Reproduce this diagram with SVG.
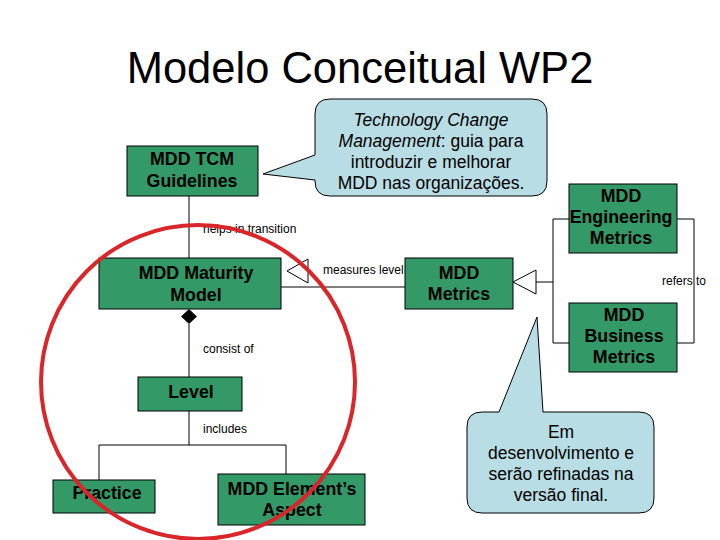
<svg xmlns="http://www.w3.org/2000/svg" width="720" height="540" viewBox="0 0 720 540">
<style>
.box{fill:#339966;stroke:#000;stroke-width:1}
.bt{font-family:"Liberation Sans",Arial,sans-serif;font-weight:bold;font-size:17.8px;fill:#000;text-anchor:middle}
.lbl{font-family:"Liberation Sans",Arial,sans-serif;font-size:12px;fill:#000}
.ln{fill:none;stroke:#000;stroke-width:1}
.call{fill:#b9dde4;stroke:#000;stroke-width:1}
.ct{font-family:"Liberation Sans",Arial,sans-serif;font-size:17.5px;fill:#000;text-anchor:middle}
</style>
<rect width="720" height="540" fill="#fff"/>
<text x="360" y="83" text-anchor="middle" font-family="'Liberation Sans',Arial,sans-serif" font-size="43.5" fill="#000">Modelo Conceitual WP2</text>

<g id="connectors">
  <path class="ln" d="M189,196 V258"/>
  <text class="lbl" x="203" y="233">helps in transition</text>
  <path class="ln" d="M281,287 H405"/>
  <polygon class="ln" points="287,271 308,259 308,283" fill="#fff"/>
  <text class="lbl" x="323" y="274">measures level</text>
  <polygon points="189,309 197,316.5 189,324 181,316.5" fill="#000"/>
  <path class="ln" d="M189,324 V377"/>
  <text class="lbl" x="203" y="353">consist of</text>
  <path class="ln" d="M189,411 V445 M99,445 H286 M99,445 V480 M286,445 V474"/>
  <text class="lbl" x="203" y="433">includes</text>
  <polygon class="ln" points="513,282 536,270 536,294" fill="#fff"/>
  <path class="ln" d="M536,282 H553 M553,219 V343 M553,219 H569 M553,343 H569"/>
  <path class="ln" d="M677,219 H694 V343 H677"/>
  <text class="lbl" x="662" y="285">refers to</text>
</g>

<g id="tcm">
  <rect class="box" x="127" y="146" width="131" height="50"/>
  <text class="bt" x="192" y="165">MDD TCM</text>
  <text class="bt" x="192" y="187">Guidelines</text>
</g>
<g id="maturity">
  <rect class="box" x="99" y="258" width="182" height="51"/>
  <text class="bt" x="196" y="279">MDD Maturity</text>
  <text class="bt" x="196" y="301">Model</text>
</g>
<g id="metrics">
  <rect class="box" x="405" y="258" width="108" height="51"/>
  <text class="bt" x="459" y="279">MDD</text>
  <text class="bt" x="459" y="300">Metrics</text>
</g>
<g id="engineering">
  <rect class="box" x="569" y="184" width="108" height="69"/>
  <text class="bt" x="621" y="202">MDD</text>
  <text class="bt" x="621" y="223">Engineering</text>
  <text class="bt" x="621" y="244">Metrics</text>
</g>
<g id="business">
  <rect class="box" x="569" y="303" width="108" height="69"/>
  <text class="bt" x="624" y="321">MDD</text>
  <text class="bt" x="624" y="342">Business</text>
  <text class="bt" x="624" y="363">Metrics</text>
</g>
<g id="level">
  <rect class="box" x="138" y="377" width="104" height="34"/>
  <text class="bt" x="191" y="398">Level</text>
</g>
<g id="practice">
  <rect class="box" x="53" y="480" width="102" height="33"/>
  <text class="bt" x="107" y="499">Practice</text>
</g>
<g id="element">
  <rect class="box" x="218" y="474" width="147" height="51"/>
  <text class="bt" x="292" y="495">MDD Element’s</text>
  <text class="bt" x="292" y="516">Aspect</text>
</g>

<g id="callout1">
  <path class="call" d="M330,99 H532 Q547,99 547,114 V181 Q547,196 532,196 H330 Q315,196 315,181 V180 L263,174 L315,155 V114 Q315,99 330,99 Z"/>
  <text class="ct" x="431" y="126" font-style="italic">Technology Change</text>
  <text class="ct" x="431" y="147"><tspan font-style="italic">Management</tspan>: guia para</text>
  <text class="ct" x="431" y="168">introduzir e melhorar</text>
  <text class="ct" x="431" y="189">MDD nas organizações.</text>
</g>
<g id="callout2">
  <path class="call" d="M482,412 H499 L537,317 L543,412 H639 Q654,412 654,427 V498 Q654,513 639,513 H482 Q467,513 467,498 V427 Q467,412 482,412 Z"/>
  <text class="ct" x="561" y="438">Em</text>
  <text class="ct" x="561" y="459">desenvolvimento e</text>
  <text class="ct" x="561" y="480">serão refinadas na</text>
  <text class="ct" x="561" y="501">versão final.</text>
</g>

<circle id="highlight" cx="198" cy="382" r="157" fill="none" stroke="#d9262b" stroke-width="4"/>
</svg>
